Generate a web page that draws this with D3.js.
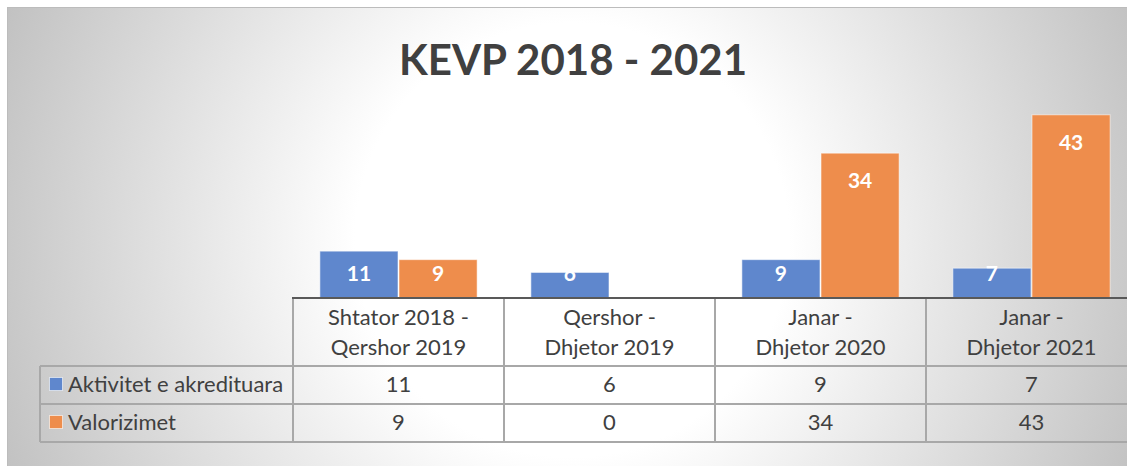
<!DOCTYPE html>
<html>
<head>
<meta charset="utf-8">
<script src="https://cdn.jsdelivr.net/npm/d3@7"></script>
<style>
    html, body { margin: 0; padding: 0; background: #ffffff; overflow: hidden; }
    svg { display: block; font-family: Lato, "Open Sans", sans-serif; }
</style>
</head>
<body>
<div id="graph"></div>
<script>
"use strict";

// chart data
var title = "KEVP 2018 - 2021";
var categories = [
    ["Shtator 2018 -", "Qershor 2019"],
    ["Qershor -", "Dhjetor 2019"],
    ["Janar -", "Dhjetor 2020"],
    ["Janar -", "Dhjetor 2021"]
];
var seriesNames = ["Aktivitet e akredituara", "Valorizimet"];
var aktivitet = [11, 6, 9, 7];
var valorizimet = [9, 0, 34, 43];
var seriesColors = ["#5f87cd", "#ee8d4c"];

var W = 1127, H = 466;

drawChart();

function drawChart() {
    var series = [aktivitet, valorizimet];
    var catIdx = d3.range(categories.length);

    var svg = d3.select("#graph")
        .append("svg")
        .attr("id", "svg-id")
        .attr("width", W)
        .attr("height", H);

    // background with radial gradient
    var grad = svg.append("defs")
        .append("radialGradient")
        .attr("id", "bg")
        .attr("gradientUnits", "userSpaceOnUse")
        .attr("cx", 572).attr("cy", 240).attr("r", 620);
    grad.append("stop").attr("offset", "0").attr("stop-color", "#ffffff");
    grad.append("stop").attr("offset", "0.35").attr("stop-color", "#ffffff");
    grad.append("stop").attr("offset", "1").attr("stop-color", "#c0c0c0");

    svg.append("rect")
        .attr("x", 7.5).attr("y", 7.5)
        .attr("width", 1140).attr("height", 480)
        .attr("fill", "url(#bg)")
        .attr("stroke", "#bcbcbc")
        .attr("stroke-width", 1);

    svg.append("text")
        .attr("x", 573)
        .attr("y", 75)
        .attr("text-anchor", "middle")
        .attr("font-size", 42)
        .attr("font-weight", "bold")
        .attr("fill", "#404040")
        .text(title);

    var x0 = d3.scaleBand()
        .domain(catIdx)
        .range([293, 1137])
        .paddingInner(0.25)
        .paddingOuter(0.125);

    var x1 = d3.scaleBand()
        .domain(d3.range(series.length))
        .range([0, x0.bandwidth()]);

    var y = d3.scaleLinear()
        .domain([0, 50])
        .range([298, 85]);

    var step = x0.step();
    var colLeft = function (i) { return x0(i) - x0.paddingOuter() * step; };

    // bars
    var groups = svg.append("g")
        .selectAll("g")
        .data(catIdx)
        .join("g")
        .attr("transform", function (i) { return "translate(" + x0(i) + ",0)"; });

    groups.selectAll("rect")
        .data(function (i) {
            return series.map(function (s, k) { return { k: k, v: s[i] }; });
        })
        .join("rect")
        .attr("x", function (d) { return x1(d.k) + 0.5; })
        .attr("y", function (d) { return y(d.v); })
        .attr("width", x1.bandwidth() - 1)
        .attr("height", function (d) { return y(0) - y(d.v); })
        .attr("fill", function (d) { return seriesColors[d.k]; })
        .attr("stroke", function (d) { return d.v > 0 ? "rgba(255,255,255,0.55)" : "none"; })
        .attr("stroke-width", 1);

    // labels inside end, kept inside the plot area
    var clip = svg.append("clipPath").attr("id", "plotclip");
    clip.append("rect").attr("x", 293).attr("y", 80).attr("width", 850).attr("height", y(0) - 80);

    groups.append("g")
        .attr("clip-path", "url(#plotclip)")
        .attr("transform", function (i) { return "translate(" + (-x0(i)) + ",0)"; })
        .selectAll("text")
        .data(function (i) {
            return series.map(function (s, k) { return { i: i, k: k, v: s[i] }; })
                .filter(function (d) { return d.v > 0; });
        })
        .join("text")
        .attr("x", function (d) { return x0(d.i) + x1(d.k) + x1.bandwidth() / 2; })
        .attr("y", function (d) { return Math.min(y(d.v) + 35, y(0) - 17); })
        .attr("text-anchor", "middle")
        .attr("font-size", 21)
        .attr("font-weight", "bold")
        .attr("fill", "#ffffff")
        .text(function (d) { return d.v; });

    // data table
    var table = svg.append("g");
    var lineColor = "#a8a8a8";
    var rowY = [298, 366, 404, 442];
    var right = 1140;
    var fs = 22;

    // horizontal lines
    table.selectAll("line.h")
        .data(rowY.slice(1))
        .join("line")
        .attr("class", "h")
        .attr("x1", 40).attr("x2", right)
        .attr("y1", function (d) { return d; })
        .attr("y2", function (d) { return d; })
        .attr("stroke", lineColor)
        .attr("stroke-width", 2);

    // vertical lines
    table.selectAll("line.v")
        .data(catIdx.concat([categories.length]))
        .join("line")
        .attr("class", "v")
        .attr("x1", function (i) { return colLeft(0) + i * step; })
        .attr("x2", function (i) { return colLeft(0) + i * step; })
        .attr("y1", rowY[0]).attr("y2", rowY[3])
        .attr("stroke", lineColor)
        .attr("stroke-width", 2);

    table.append("line")
        .attr("x1", 40).attr("x2", 40)
        .attr("y1", rowY[1]).attr("y2", rowY[3])
        .attr("stroke", lineColor)
        .attr("stroke-width", 2);

    // axis line on top of the table
    table.append("line")
        .attr("x1", 292).attr("x2", right)
        .attr("y1", rowY[0]).attr("y2", rowY[0])
        .attr("stroke", "#595959")
        .attr("stroke-width", 2);

    // category headers
    table.selectAll("text.cat")
        .data(catIdx)
        .join("text")
        .attr("class", "cat")
        .attr("x", function (i) { return colLeft(i) + step / 2; })
        .attr("y", 325)
        .attr("text-anchor", "middle")
        .attr("font-size", fs)
        .attr("fill", "#404040")
        .selectAll("tspan")
        .data(function (i) { return categories[i]; })
        .join("tspan")
        .attr("x", function () { return d3.select(this.parentNode).attr("x"); })
        .attr("dy", function (d, j) { return j === 0 ? 0 : 30; })
        .text(function (d) { return d; });

    // series rows
    series.forEach(function (s, k) {
        var base = rowY[k + 1] + 26;
        table.append("rect")
            .attr("x", 49.5).attr("y", rowY[k + 1] + 11.5)
            .attr("width", 13).attr("height", 13)
            .attr("fill", seriesColors[k])
            .attr("stroke", "rgba(255,255,255,0.6)");
        table.append("text")
            .attr("x", 68)
            .attr("y", base)
            .attr("font-size", fs)
            .attr("fill", "#404040")
            .text(seriesNames[k]);
        table.selectAll("text.val" + k)
            .data(s)
            .join("text")
            .attr("class", "val" + k)
            .attr("x", function (d, i) { return colLeft(i) + step / 2; })
            .attr("y", base)
            .attr("text-anchor", "middle")
            .attr("font-size", fs)
            .attr("fill", "#404040")
            .text(function (d) { return d; });
    });
}
</script>
</body>
</html>
